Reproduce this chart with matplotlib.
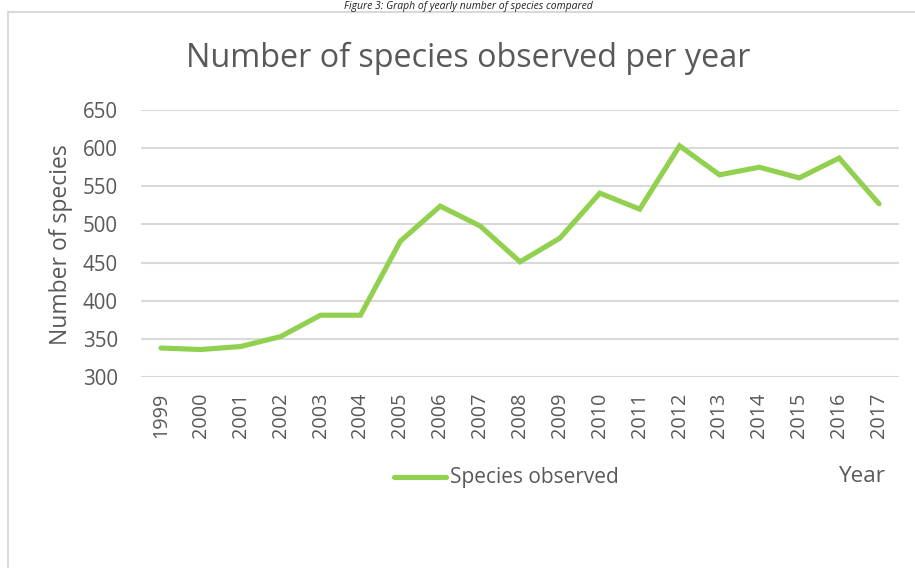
import matplotlib
matplotlib.use("Agg")
import matplotlib.pyplot as plt
from matplotlib.patches import Rectangle
from matplotlib.lines import Line2D

years = ["1999", "2000", "2001", "2002", "2003", "2004", "2005", "2006", "2007", "2008",
         "2009", "2010", "2011", "2012", "2013", "2014", "2015", "2016", "2017"]
species = [338, 336, 340, 353, 381, 381, 478, 524, 498, 451,
           482, 541, 520, 603, 565, 575, 561, 587, 527]
y_ticks = [300, 350, 400, 450, 500, 550, 600, 650]

W, H = 915, 568
TEXT = "#595959"
GREEN = "#92D050"
GRID = "#D9D9D9"
FONT = "Open Sans"

fig = plt.figure(figsize=(W / 100, H / 100), dpi=100)
fig.patch.set_facecolor("white")

def fx(px):
    return px / W

def fy(py):
    return 1 - py / H

# chart frame
fig.add_artist(Rectangle((fx(8), -0.1), 1.2, fy(12) + 0.1, transform=fig.transFigure,
                         facecolor="none", edgecolor=GRID, linewidth=1.5, zorder=-1))

# caption above the frame
fig.text(fx(468), fy(1), "Figure 3: Graph of yearly number of species compared",
         ha="center", va="top", fontsize=7.5, style="italic",
         color="#222222", family=FONT)

ax = fig.add_axes([fx(141), fy(377), fx(899) - fx(141), fy(110) - fy(377)])
ax.set_facecolor("none")
x = list(range(len(years)))
ax.plot(x, species, color=GREEN, linewidth=3.7, solid_capstyle="round",
        solid_joinstyle="miter", zorder=3)

ax.set_xlim(-0.5, len(years) - 0.5)
ax.set_ylim(300, 650)
ax.set_yticks(y_ticks)
ax.set_yticklabels([str(v) for v in y_ticks], family=FONT, fontsize=14.8, color=TEXT)
ax.set_xticks(x)
ax.set_xticklabels(years, rotation=90, family=FONT, fontsize=14.3, color=TEXT)
ax.tick_params(axis="both", length=0)
ax.tick_params(axis="y", pad=16.6)
ax.tick_params(axis="x", pad=11)
ax.grid(axis="y", color=GRID, linewidth=1.5)
ax.set_axisbelow(True)
for s in ax.spines.values():
    s.set_visible(False)

fig.text(fx(61), fy(245), "Number of species", rotation=90, ha="center", va="center",
         family=FONT, fontsize=16.5, color=TEXT)
fig.text(fx(468), fy(58), "Number of species observed per year", ha="center", va="center",
         family=FONT, fontsize=23.3, color=TEXT)

# legend entry and axis title
fig.add_artist(Line2D([fx(394), fx(446)], [fy(477), fy(477)], transform=fig.transFigure,
                      color=GREEN, linewidth=3.7, solid_capstyle="round"))
fig.text(fx(450), fy(477), "Species observed", ha="left", va="center",
         family=FONT, fontsize=15, color=TEXT)
fig.text(fx(886), fy(477), "Year", ha="right", va="center",
         family=FONT, fontsize=16.2, color=TEXT)

fig.savefig("out.png", dpi=100, facecolor="white")
